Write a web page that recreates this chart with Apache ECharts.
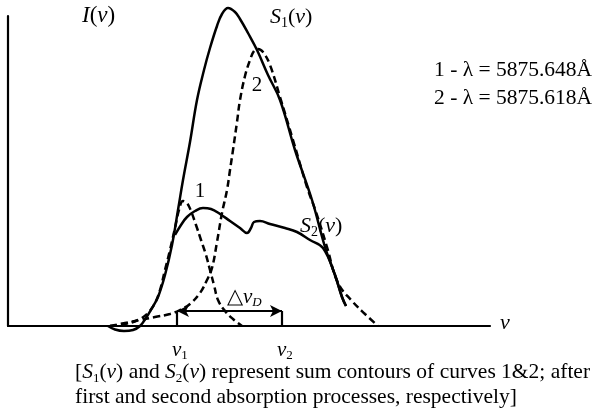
<!DOCTYPE html>
<html>
<head>
<meta charset="utf-8">
<script src="https://cdn.jsdelivr.net/npm/echarts@6/dist/echarts.min.js"></script>
<style>
  html, body { margin: 0; padding: 0; background: #fff; }
  #chart { width: 602px; height: 413px; }
</style>
</head>
<body>
<div id="chart"></div>
<script>
// curves: [nu, I] in arbitrary units (1 unit ~ 1px)
const s1Curve = [
    [100, 0], [107, -3.5], [116, -5], [125, -4], [132, 0], [138, 8], [144, 18], [150, 29],
    [157, 51], [164, 81], [170, 116], [175, 146], [182, 184], [189, 226], [196, 256],
    [202, 278], [209, 300], [214, 312], [220, 318], [227, 314], [232, 307], [240, 293],
    [249, 276], [260, 251], [272, 226], [287, 176], [304, 126], [317, 79], [327, 51],
    [334, 29], [338, 20]
]
const s2Curve = [
    [167, 91], [173, 101], [179, 109], [187, 115], [195, 118], [203, 117], [212, 112],
    [222, 105], [232, 98], [239, 93], [243, 98], [246, 104], [252, 105], [262, 102],
    [277, 98], [289, 94], [302, 86], [315, 78], [327, 51], [334, 29], [338, 20]
]
// line 1 - 5875.648 A
const curve1 = [
    [102, 0], [117, 2], [130, 6], [140, 13], [147, 23], [152, 36], [157, 56], [162, 76],
    [167, 98], [171, 116], [175, 125], [179, 123], [183, 115], [188, 101], [193, 86],
    [198, 71], [202, 56], [206, 41], [210, 26], [217, 15], [225, 7], [234, 0]
]
// line 2 - 5875.618 A
const curve2 = [
    [102, 0], [117, 3], [132, 6], [147, 9], [162, 12], [172, 16], [182, 22], [192, 33],
    [199, 46], [204, 58], [209, 84], [214, 113], [219, 136], [222, 156], [225, 176],
    [229, 204], [232, 226], [237, 250], [242, 266], [246, 275], [250, 277], [255, 274],
    [262, 261], [272, 229], [285, 186], [299, 139], [308, 114], [319, 79], [330, 43],
    [344, 25], [357, 12], [370, 0]
]
const nu1 = 169
const nu2 = 274
const arrowLevel = 15

const font = 'Liberation Serif, Times New Roman, serif'
const black = '#000'

function makeRich(size) {
    const sub = Math.round(size * 0.62)
    const lh = Math.round(size * 1.2)
    return {
        i: { fontFamily: font, fontStyle: 'italic', fontSize: size, lineHeight: lh, color: black },
        n: { fontFamily: font, fontSize: size, lineHeight: lh, color: black },
        s: { fontFamily: font, fontSize: sub, lineHeight: sub + 1, verticalAlign: 'bottom', color: black },
        si: { fontFamily: font, fontStyle: 'italic', fontSize: sub, lineHeight: sub + 1, verticalAlign: 'bottom', color: black }
    }
}

function txt(x, y, text, size, align) {
    return {
        type: 'text',
        x, y,
        silent: true,
        style: {
            text,
            rich: makeRich(size),
            align: align || 'left',
            verticalAlign: 'middle',
            fontFamily: font,
            fontSize: size,
            fill: black
        }
    }
}

function lineSeries(name, data, dashed) {
    return {
        name,
        type: 'line',
        data,
        smooth: 0.4,
        showSymbol: false,
        clip: false,
        silent: true,
        lineStyle: {
            color: black,
            width: 2.5,
            type: dashed ? [7, 4] : 'solid'
        }
    }
}

const chart = echarts.init(document.getElementById('chart'))

const s2 = lineSeries('S2', s2Curve, false)
s2.markLine = {
    silent: true,
    symbol: ['arrow', 'arrow'],
    symbolSize: [9, 12],
    label: { show: false },
    lineStyle: { color: black, type: 'solid', width: 2.2 },
    data: [
        [{ coord: [nu1, arrowLevel] }, { coord: [nu2, arrowLevel] }],
        [{ coord: [nu1, 0], symbol: 'none' }, { coord: [nu1, arrowLevel], symbol: 'none' }],
        [{ coord: [nu2, 0], symbol: 'none' }, { coord: [nu2, arrowLevel], symbol: 'none' }]
    ]
}

chart.setOption({
    animation: false,
    grid: { left: 8, right: 112, top: 16, bottom: 87 },
    xAxis: {
        type: 'value',
        min: 0,
        max: 482,
        axisLine: { show: true, onZero: true, lineStyle: { color: black, width: 2.2 } },
        axisTick: { show: false },
        axisLabel: { show: false },
        splitLine: { show: false }
    },
    yAxis: {
        type: 'value',
        min: 0,
        max: 310,
        axisLine: { show: true, lineStyle: { color: black, width: 2.2 } },
        axisTick: { show: false },
        axisLabel: { show: false },
        splitLine: { show: false }
    },
    series: [
        lineSeries('S1', s1Curve, false),
        s2,
        lineSeries('1', curve1, true),
        lineSeries('2', curve2, true)
    ],
    graphic: [
        txt(82, 16, '{i|I}{n|(}{i|v}{n|)}', 23),
        txt(270, 17, '{i|S}{s|1}{n|(}{i|v}{n|)}', 22),
        txt(300, 226, '{i|S}{s|2}{n|(}{i|v}{n|)}', 22),
        txt(200, 191, '{n|1}', 21, 'center'),
        txt(257, 85, '{n|2}', 21, 'center'),
        txt(227, 297, '{n|△}{i|v}{si|D}', 21),
        txt(500, 323, '{i|v}', 22),
        txt(172, 350, '{i|v}{s|1}', 21),
        txt(277, 350, '{i|v}{s|2}', 21),
        txt(434, 70, '{n|1 - λ = 5875.648Å}', 21.5),
        txt(434, 98, '{n|2 - λ = 5875.618Å}', 21.5),
        txt(75, 372, '{n|[}{i|S}{s|1}{n|(}{i|v}{n|) and }{i|S}{s|2}{n|(}{i|v}{n|) represent sum contours of curves 1&2; after}', 21.5),
        txt(75, 397, '{n|first and second absorption processes, respectively]}', 21.5)
    ]
})
</script>
</body>
</html>
